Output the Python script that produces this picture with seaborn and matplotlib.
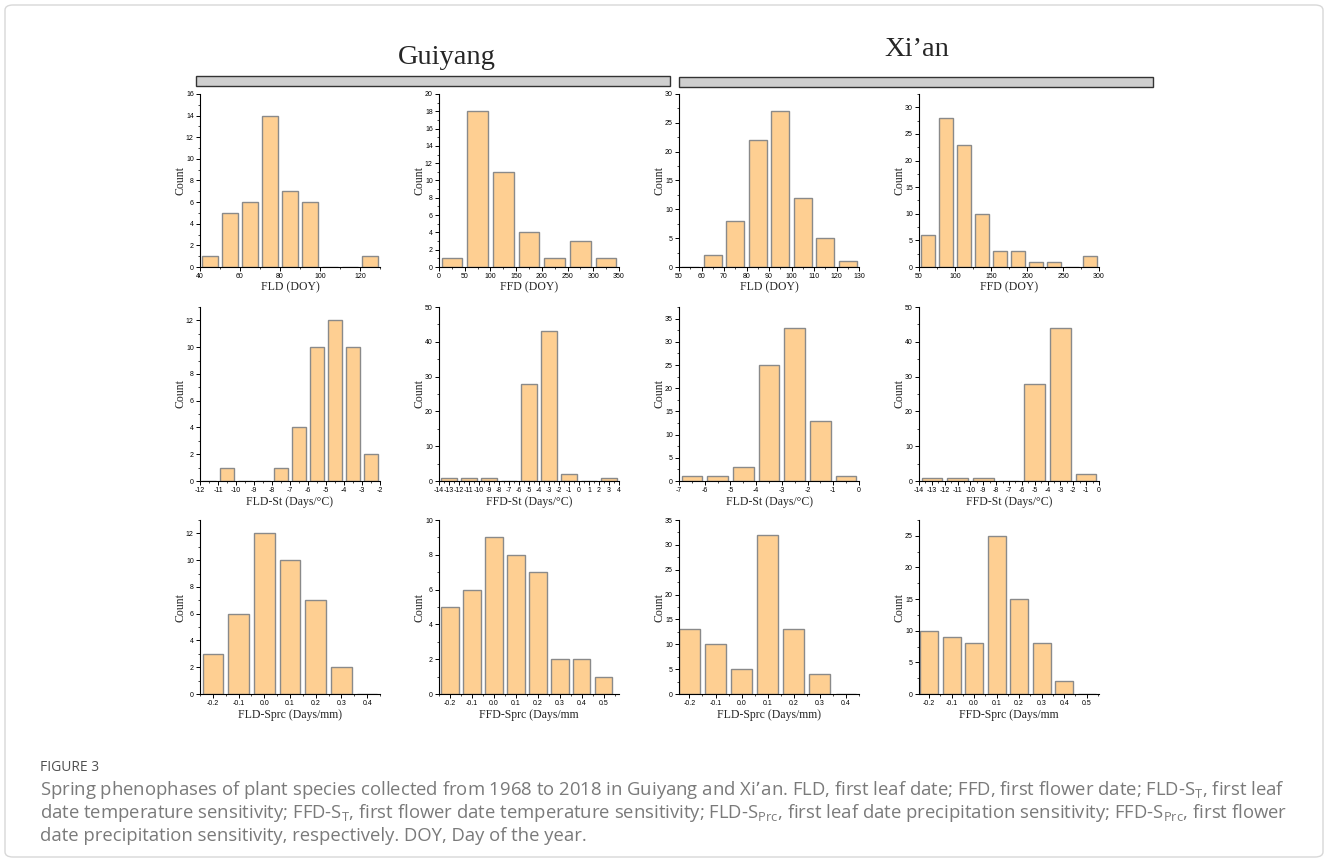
import matplotlib
matplotlib.use("Agg")
import numpy as np
import pandas as pd
import matplotlib.pyplot as plt
import seaborn as sns
from matplotlib.patches import Rectangle, FancyBboxPatch
from matplotlib.ticker import MultipleLocator, FormatStrFormatter

# ---- counts per bin (Guiyang / Xi'an) ----
gy_fld = [1, 5, 6, 14, 7, 6, 0, 0, 1]            # bins 40..130, width 10
gy_ffd = [1, 18, 11, 4, 1, 3, 1]                 # bins 0..350, width 50
xa_fld = [0, 2, 8, 22, 27, 12, 5, 1]             # bins 50..130, width 10
xa_ffd = [6, 28, 23, 10, 3, 3, 1, 1, 0, 2]       # bins 50..300, width 25

gy_fld_st = [0, 1, 0, 0, 1, 4, 10, 12, 10, 2]    # bins -12..-2, width 1
gy_ffd_st = [1, 1, 1, 0, 28, 43, 2, 0, 1]        # bins -14..4, width 2
xa_fld_st = [1, 1, 3, 25, 33, 13, 1]             # bins -7..0, width 1
xa_ffd_st = [1, 1, 1, 0, 28, 44, 2]              # bins -14..0, width 2

gy_fld_sprc = [3, 6, 12, 10, 7, 2, 0]            # bins -0.25..0.45, width 0.1
gy_ffd_sprc = [5, 6, 9, 8, 7, 2, 2, 1]           # bins -0.25..0.55, width 0.1
xa_fld_sprc = [13, 10, 5, 32, 13, 4, 0]
xa_ffd_sprc = [10, 9, 8, 25, 15, 8, 2, 0]

city_titles = ["Guiyang", "Xi\u2019an"]
xlabels = [
    ["FLD (DOY)", "FFD (DOY)", "FLD (DOY)", "FFD (DOY)"],
    ["FLD-St (Days/\u00b0C)", "FFD-St (Days/\u00b0C)", "FLD-St (Days/\u00b0C)", "FFD-St (Days/\u00b0C)"],
    ["FLD-Sprc (Days/mm)", "FFD-Sprc (Days/mm", "FLD-Sprc (Days/mm)", "FFD-Sprc (Days/mm"],
]

caption_head = "FIGURE 3"
caption_lines = [
    "Spring phenophases of plant species collected from 1968 to 2018 in Guiyang and Xi\u2019an. FLD, first leaf date; FFD, first flower date; FLD-S$_\\mathregular{T}$, first leaf",
    "date temperature sensitivity; FFD-S$_\\mathregular{T}$, first flower date temperature sensitivity; FLD-S$_\\mathregular{Prc}$, first leaf date precipitation sensitivity; FFD-S$_\\mathregular{Prc}$, first flower",
    "date precipitation sensitivity, respectively. DOY, Day of the year.",
]

# panel settings: counts, first edge, bin width, xlim, ylim, x major, x minor, y major, y minor, format
panels = [
    [
        (gy_fld, 40, 10, (40, 130), (0, 16), 20, 10, 2, 1, None),
        (gy_ffd, 0, 50, (0, 350), (0, 20), 50, 25, 2, 1, None),
        (xa_fld, 50, 10, (50, 130), (0, 30), 10, 5, 5, 2.5, None),
        (xa_ffd, 50, 25, (50, 300), (0, 32.5), 50, 25, 5, 2.5, None),
    ],
    [
        (gy_fld_st, -12, 1, (-12, -2), (0, 13), 1, 0.5, 2, 1, None),
        (gy_ffd_st, -14, 2, (-14, 4), (0, 50), 1, 0.5, 10, 5, None),
        (xa_fld_st, -7, 1, (-7, 0), (0, 37.5), 1, 0.5, 5, 2.5, None),
        (xa_ffd_st, -14, 2, (-14, 0), (0, 50), 1, 0.5, 10, 5, None),
    ],
    [
        (gy_fld_sprc, -0.25, 0.1, (-0.25, 0.45), (0, 13), 0.1, 0.05, 2, 1, "%.1f"),
        (gy_ffd_sprc, -0.25, 0.1, (-0.25, 0.57), (0, 10), 0.1, 0.05, 2, 1, "%.1f"),
        (xa_fld_sprc, -0.25, 0.1, (-0.24, 0.45), (0, 35), 0.1, 0.05, 5, 2.5, "%.1f"),
        (xa_ffd_sprc, -0.25, 0.1, (-0.245, 0.555), (0, 27.5), 0.1, 0.05, 5, 2.5, "%.1f"),
    ],
]

W, H = 1328, 863
sns.set_theme(style="white")
plt.rcParams["font.family"] = ["Liberation Serif", "DejaVu Serif"]
plt.rcParams["axes.linewidth"] = 0.8

fig = plt.figure(figsize=(W / 100, H / 100), dpi=100)
fig.patch.set_facecolor("white")

# page frame
fig.add_artist(FancyBboxPatch((5 / W, 1 - 857 / H), 1318 / W, 852 / H,
                              boxstyle="round,pad=0,rounding_size=0.006",
                              transform=fig.transFigure, facecolor="none",
                              edgecolor="#d8d8d8", linewidth=1.0))

# city headers
fig.text(447 / W, 1 - 57 / H, city_titles[0], ha="center", va="center",
         fontsize=20.5, family=["Liberation Serif"])
fig.text(917 / W, 1 - 50 / H, city_titles[1], ha="center", va="center",
         fontsize=20.5, family=["Liberation Serif"])
for x0, x1, y0, y1 in [(196, 670, 76, 86), (679, 1153, 77, 87)]:
    fig.add_artist(Rectangle((x0 / W, 1 - y1 / H), (x1 - x0) / W, (y1 - y0) / H,
                             transform=fig.transFigure, facecolor="#cfcfcf",
                             edgecolor="#333333", linewidth=1.0))

cols_px = [(200, 380), (439, 619), (679, 859), (919, 1099)]
rows_px = [(94, 267), (307, 481), (520, 694)]

bar_face = "#fecf92"
bar_edge = "#8a8a8a"

for r, (ry0, ry1) in enumerate(rows_px):
    for c, (cx0, cx1) in enumerate(cols_px):
        counts, start, width, xlim, ylim, xmaj, xmin, ymaj, ymin, fmt = panels[r][c]
        ax = fig.add_axes([cx0 / W, 1 - ry1 / H, (cx1 - cx0) / W, (ry1 - ry0) / H])
        n = len(counts)
        edges = [float(e) for e in start + width * np.arange(n + 1)]
        df = pd.DataFrame({"value": start + width * (np.arange(n) + 0.5),
                           "count": np.asarray(counts, dtype=float)})
        sns.histplot(data=df, x="value", weights="count", bins=edges, shrink=0.8,
                     color=bar_face, edgecolor=bar_edge, linewidth=1.0,
                     alpha=1.0, ax=ax)
        ax.set_xlim(*xlim)
        ax.set_ylim(*ylim)
        ax.xaxis.set_major_locator(MultipleLocator(xmaj))
        ax.xaxis.set_minor_locator(MultipleLocator(xmin))
        ax.yaxis.set_major_locator(MultipleLocator(ymaj))
        ax.yaxis.set_minor_locator(MultipleLocator(ymin))
        if fmt:
            ax.xaxis.set_major_formatter(FormatStrFormatter(fmt))
        else:
            ax.xaxis.set_major_formatter(FormatStrFormatter("%g"))
        ax.yaxis.set_major_formatter(FormatStrFormatter("%g"))
        for side in ["top", "right"]:
            ax.spines[side].set_visible(False)
        for side in ["left", "bottom"]:
            ax.spines[side].set_color("black")
            ax.spines[side].set_linewidth(0.8)
        ax.tick_params(which="major", direction="out", length=3, width=0.7,
                       pad=1.5, labelsize=5, colors="black", left=True, bottom=True)
        ax.tick_params(which="minor", direction="out", length=1.6, width=0.6,
                       left=True, bottom=True)
        for lab in ax.get_xticklabels() + ax.get_yticklabels():
            lab.set_family(["Liberation Sans"])
        ax.set_ylabel("Count", fontsize=8.5)
        ax.set_xlabel(xlabels[r][c], fontsize=8.5)
        ax.yaxis.set_label_coords(-0.075, 0.5)
        ax.xaxis.set_label_coords(0.5, -0.085)
        ax.set_facecolor("none")

# caption
fig.text(40 / W, 1 - 767 / H, caption_head, ha="left", va="center",
         fontsize=10, color="#505050", family=["Open Sans", "DejaVu Sans"])
for i, line in enumerate(caption_lines):
    fig.text(40 / W, 1 - (790 + 23 * i) / H, line, ha="left", va="center",
             fontsize=13.3, color="#7a7a7a", family=["Open Sans", "DejaVu Sans"])

fig.savefig("out.png", dpi=100)
